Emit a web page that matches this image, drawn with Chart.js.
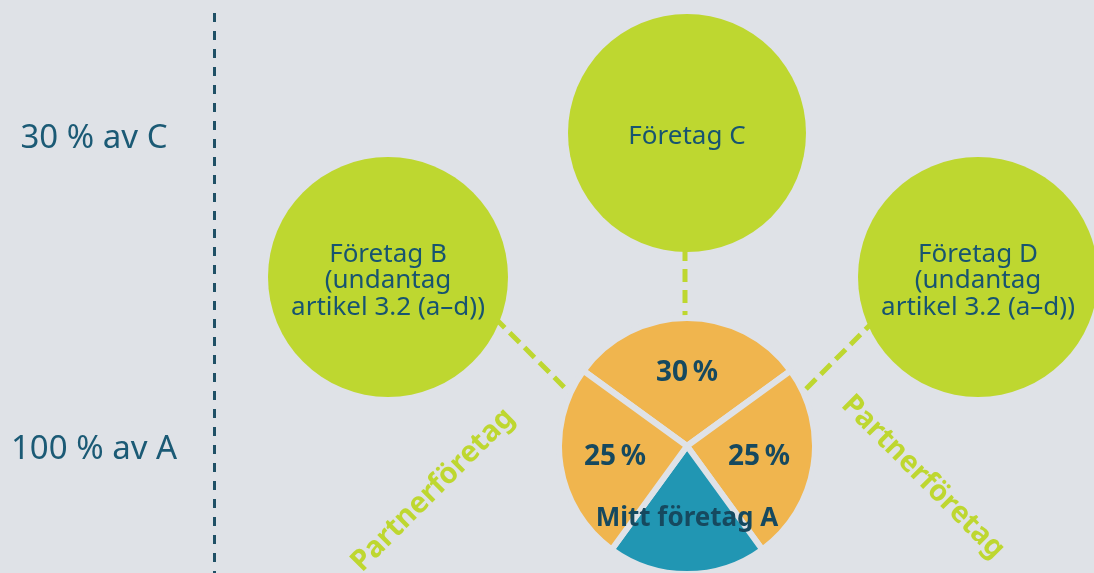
<!DOCTYPE html>
<html>
<head>
<meta charset="utf-8">
<script src="https://cdn.jsdelivr.net/npm/chart.js@4/dist/chart.umd.min.js"></script>
<style>
  html, body { margin: 0; padding: 0; background: #dfe2e7; }
  #wrap { position: relative; width: 1094px; height: 573px; overflow: hidden; background: #dfe2e7; }
  #main { position: absolute; left: 0; top: 0; }
  #pieBox { position: absolute; left: 556px; top: 315px; width: 262px; height: 262px; }
</style>
</head>
<body>
<div id="wrap">
  <canvas id="main" width="1094" height="573"></canvas>
  <div id="pieBox"><canvas id="pie" width="262" height="262"></canvas></div>
</div>
<script>
// data
const companyNames = ['Företag B\n(undantag\nartikel 3.2 (a–d))', 'Företag C', 'Företag D\n(undantag\nartikel 3.2 (a–d))'];
const companyX = [388, 687, 978];
const companyY = [277, 133, 277];
const companyR = [120, 119, 120];

const pieLabels = ['30\u2009%', '25\u2009%', 'Mitt företag A', '25\u2009%'];
const pieShares = [30, 25, 20, 25];

const rowLabels = ['30 % av C', '100 % av A'];
const rowY = [148, 459];

const partnerLabel = 'Partnerföretag';
const partnerX = [433, 923];
const partnerY = [490, 477];
const partnerAngle = [-45, 45];

// connector lines (x/y of both ends)
const linkX = [[685, 685], [579, 495], [806, 876]];
const linkY = [[324, 248], [402, 318], [389, 319]];
const dividerX = [214.5, 214.5];
const dividerY = [13, 573];

const BG = '#dfe2e7';
const GREEN = '#bed730';
const ORANGE = '#f0b54e';
const BLUE = '#2196b3';
const TEXT = '#175470';
const DARK = '#16495f';

const textPlugin = {
  id: 'texts',
  afterDatasetsDraw(chart) {
    const { ctx, scales: { x, y } } = chart;
    ctx.save();
    ctx.textAlign = 'center';
    ctx.textBaseline = 'alphabetic';

    // names in the circles
    ctx.font = '26px "Noto Sans"';
    ctx.fillStyle = TEXT;
    companyNames.forEach((name, i) => {
      const lines = name.split('\n');
      const cx = x.getPixelForValue(companyX[i]);
      const cy = y.getPixelForValue(companyY[i]);
      const mid = (lines.length - 1) / 2;
      lines.forEach((ln, j) => ctx.fillText(ln, cx, cy + 11 + (j - mid) * 26.5));
    });

    // row labels on the left
    ctx.font = '33px "Noto Sans"';
    ctx.fillStyle = '#1b5a75';
    rowLabels.forEach((t, i) => ctx.fillText(t, x.getPixelForValue(94), y.getPixelForValue(rowY[i])));

    // rotated partner labels
    ctx.font = 'bold 29px "Noto Sans"';
    ctx.fillStyle = GREEN;
    ctx.textBaseline = 'middle';
    partnerX.forEach((px, i) => {
      ctx.save();
      ctx.translate(x.getPixelForValue(px), y.getPixelForValue(partnerY[i]));
      ctx.rotate(partnerAngle[i] * Math.PI / 180);
      ctx.fillText(partnerLabel, 0, 0);
      ctx.restore();
    });
    ctx.restore();
  }
};

const lineSet = (xs, ys, color, width, dash) => ({
  type: 'line',
  data: xs.map((v, i) => ({ x: v, y: ys[i] })),
  borderColor: color,
  borderWidth: width,
  borderDash: dash,
  borderCapStyle: 'butt',
  pointRadius: 0,
  fill: false,
  order: 2
});

new Chart(document.getElementById('main'), {
  type: 'bubble',
  data: {
    datasets: [
      {
        data: companyX.map((v, i) => ({ x: v, y: companyY[i], r: companyR[i] })),
        backgroundColor: GREEN,
        borderWidth: 0,
        hoverBorderWidth: 0,
        order: 1
      },
      lineSet(linkX[0], linkY[0], GREEN, 5, [13, 8]),
      lineSet(linkX[1], linkY[1], GREEN, 5, [14, 7]),
      lineSet(linkX[2], linkY[2], GREEN, 5, [14, 7]),
      lineSet(dividerX, dividerY, '#1f5066', 3, [9, 9])
    ]
  },
  options: {
    responsive: false,
    animation: false,
    events: [],
    layout: { padding: 0, autoPadding: false },
    scales: {
      x: { type: 'linear', min: 0, max: 1094, display: false },
      y: { type: 'linear', min: 0, max: 573, reverse: true, display: false }
    },
    plugins: { legend: { display: false }, tooltip: { enabled: false } }
  },
  plugins: [textPlugin]
});

const pieLabelPlugin = {
  id: 'pieLabels',
  afterDatasetsDraw(chart) {
    const { ctx } = chart;
    const arcs = chart.getDatasetMeta(0).data;
    ctx.save();
    ctx.fillStyle = DARK;
    ctx.textAlign = 'center';
    ctx.textBaseline = 'middle';
    arcs.forEach((arc, i) => {
      const mid = (arc.startAngle + arc.endAngle) / 2;
      const r = arc.outerRadius * 0.57;
      ctx.font = i === 2 ? 'bold 26px "Noto Sans"' : 'bold 28px "Noto Sans"';
      ctx.fillText(pieLabels[i], arc.x + Math.cos(mid) * r, arc.y + Math.sin(mid) * r);
    });
    ctx.restore();
  }
};

new Chart(document.getElementById('pie'), {
  type: 'pie',
  data: {
    labels: pieLabels,
    datasets: [{
      data: pieShares,
      backgroundColor: [ORANGE, ORANGE, BLUE, ORANGE],
      borderColor: BG,
      borderWidth: 6
    }]
  },
  options: {
    responsive: false,
    animation: false,
    events: [],
    rotation: -54,
    plugins: { legend: { display: false }, tooltip: { enabled: false } }
  },
  plugins: [pieLabelPlugin]
});
</script>
</body>
</html>
